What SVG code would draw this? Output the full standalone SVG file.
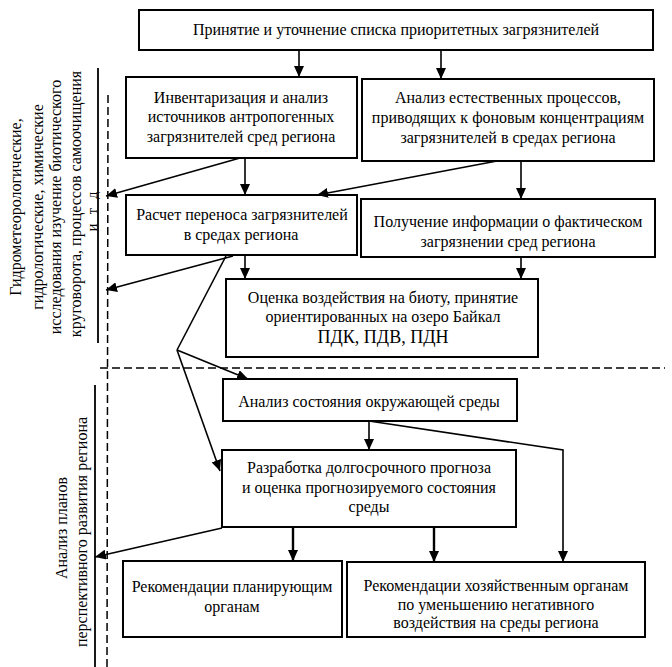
<svg xmlns="http://www.w3.org/2000/svg" width="672" height="667" viewBox="0 0 672 667">
<style>
.box{fill:#fff;stroke:#000;stroke-width:2}
.t{font-family:"Liberation Serif","Times New Roman",serif;font-size:16px;fill:#000;text-anchor:middle}
.c{fill:none;stroke:#000;stroke-width:1.6}
.th{fill:none;stroke:#000;stroke-width:2.4}
.dash{fill:none;stroke:#000;stroke-width:1.5;stroke-dasharray:8 4}
.solid{fill:none;stroke:#000;stroke-width:1.8}
</style>
<defs>
<marker id="ah" markerUnits="userSpaceOnUse" markerWidth="12" markerHeight="10" refX="11" refY="5" orient="auto">
<path d="M0,0 L11,5 L0,10 z" fill="#000"/>
</marker>
</defs>
<rect width="672" height="667" fill="#fff"/>

<g id="side-labels">
<line class="solid" x1="98" y1="68" x2="98" y2="343"/>
<line class="solid" x1="95" y1="385" x2="95" y2="667"/>
<line class="dash" x1="108" y1="95" x2="107" y2="667"/>
<line class="dash" x1="100" y1="368" x2="665" y2="368"/>
<g class="t">
<text transform="translate(21,207) rotate(-90)">Гидрометеорологические,</text>
<text transform="translate(43,207) rotate(-90)">гидрологические, химические</text>
<text transform="translate(61,207) rotate(-90)">исследования  изучение биотического</text>
<text transform="translate(81,204) rotate(-90)">круговорота, процессов самоочищения</text>
<text transform="translate(97,210) rotate(-90)" style="font-size:14px;letter-spacing:3px">и т д</text>
<text transform="translate(67,528) rotate(-90)">Анализ планов</text>
<text transform="translate(87,532) rotate(-90)">перспективного развития региона</text>
</g>
</g>

<g id="n1">
<rect class="box" x="139" y="10" width="514" height="40"/>
<text class="t" x="396" y="35">Принятие и уточнение списка приоритетных загрязнителей</text>
</g>
<g id="n2">
<rect class="box" x="126" y="77" width="231" height="81"/>
<text class="t" x="241" y="103">Инвентаризация и анализ</text>
<text class="t" x="241" y="122">источников антропогенных</text>
<text class="t" x="241" y="142">загрязнителей сред региона</text>
</g>
<g id="n3">
<rect class="box" x="362" y="79" width="292" height="82"/>
<text class="t" x="508" y="103">Анализ естественных процессов,</text>
<text class="t" x="508" y="123">приводящих к фоновым концентрациям</text>
<text class="t" x="508" y="143">загрязнителей в средах региона</text>
</g>
<g id="n4">
<rect class="box" x="126" y="195" width="231" height="60"/>
<text class="t" x="242" y="220">Расчет переноса загрязнителей</text>
<text class="t" x="241" y="240">в средах региона</text>
</g>
<g id="n5">
<rect class="box" x="361" y="199" width="294" height="58"/>
<text class="t" x="508" y="227">Получение информации о фактическом</text>
<text class="t" x="508" y="247">загрязнении сред региона</text>
</g>
<g id="n6">
<rect class="box" x="226" y="279" width="312" height="78"/>
<text class="t" x="383" y="303">Оценка воздействия на биоту, принятие</text>
<text class="t" x="383" y="322">ориентированных на озеро Байкал</text>
<text class="t" x="383" y="343" style="font-size:18px">ПДК, ПДВ, ПДН</text>
</g>
<g id="n7">
<rect class="box" x="223" y="379" width="294" height="42"/>
<text class="t" x="369" y="407">Анализ состояния окружающей среды</text>
</g>
<g id="n8">
<rect class="box" x="222" y="450" width="294" height="77"/>
<text class="t" x="369" y="473">Разработка долгосрочного прогноза</text>
<text class="t" x="369" y="493">и оценка прогнозируемого состояния</text>
<text class="t" x="369" y="512">среды</text>
</g>
<g id="n9">
<rect class="box" x="123" y="561" width="219" height="76"/>
<text class="t" x="232" y="592">Рекомендации планирующим</text>
<text class="t" x="232" y="612">органам</text>
</g>
<g id="n10">
<rect class="box" x="347" y="562" width="298" height="75"/>
<text class="t" x="496" y="591">Рекомендации хозяйственным органам</text>
<text class="t" x="496" y="610">по уменьшению негативного</text>
<text class="t" x="496" y="628">воздействия на среды региона</text>
</g>

<g id="connectors">
<line class="c" x1="299" y1="50" x2="299" y2="77" marker-end="url(#ah)"/>
<line class="c" x1="441" y1="50" x2="441" y2="79" marker-end="url(#ah)"/>
<line class="c" x1="240" y1="158" x2="106" y2="196" marker-end="url(#ah)"/>
<line class="c" x1="245" y1="158" x2="245" y2="195" marker-end="url(#ah)"/>
<line class="c" x1="497" y1="161" x2="317" y2="195" marker-end="url(#ah)"/>
<line class="c" x1="521" y1="161" x2="521" y2="199" marker-end="url(#ah)"/>
<line class="c" x1="245" y1="255" x2="245" y2="279" marker-end="url(#ah)"/>
<line class="c" x1="521" y1="257" x2="521" y2="279" marker-end="url(#ah)"/>
<line class="c" x1="233" y1="256" x2="106" y2="290" marker-end="url(#ah)"/>
<polyline class="c" points="226,256 177,350"/>
<line class="c" x1="177" y1="350" x2="248" y2="379" marker-end="url(#ah)"/>
<line class="c" x1="177" y1="350" x2="220" y2="471" marker-end="url(#ah)"/>
<line class="c" x1="369" y1="421" x2="369" y2="450" marker-end="url(#ah)"/>
<polyline class="c" points="369,421 563,450 563,562" marker-end="url(#ah)"/>
<line class="th" x1="293" y1="527" x2="293" y2="561" marker-end="url(#ah)"/>
<line class="th" x1="434" y1="527" x2="434" y2="562" marker-end="url(#ah)"/>
<line class="c" x1="222" y1="528" x2="95" y2="557" marker-end="url(#ah)"/>
</g>
</svg>
